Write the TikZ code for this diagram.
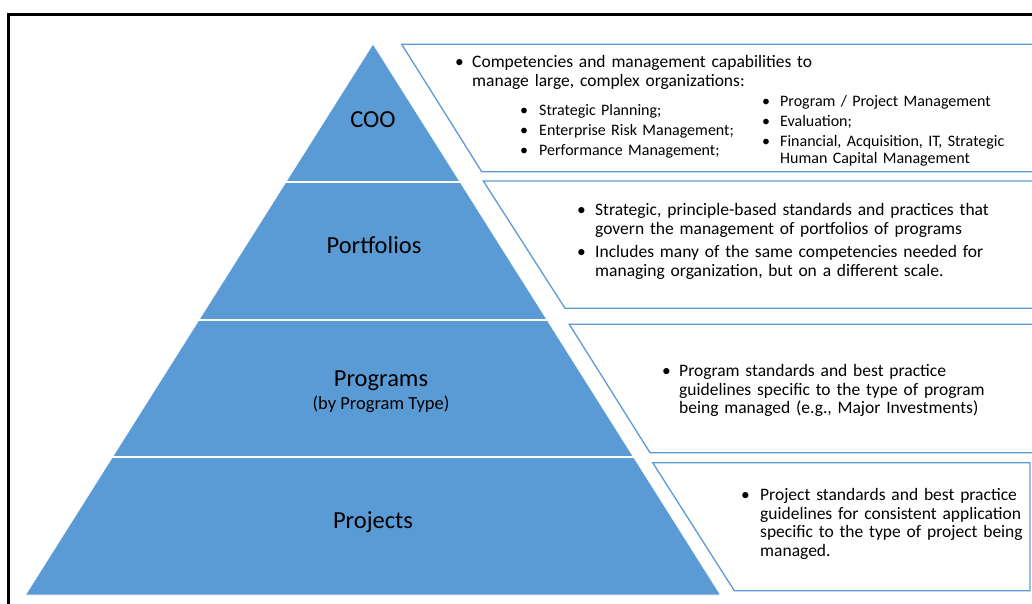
\documentclass[tikz,border=0pt]{standalone}
\usepackage{fontspec}
\setmainfont{Carlito}
\usetikzlibrary{calc}
\definecolor{pyrblue}{HTML}{5B9BD5}
\newcommand\bitem[2][17pt]{\par\hangindent=#1\hangafter=1\noindent\makebox[#1][l]{\textbullet}#2\par}
\tikzset{
  tier/.style={anchor=base,inner sep=0pt,font=\fontsize{24.5}{28}\selectfont},
  note/.style={draw=pyrblue,line width=1.3pt,fill=white},
  divider/.style={white,line width=2pt},
  bullets/.style={anchor=north west,inner sep=0pt,text width=#1,align=left,
    font=\fontsize{17.5}{18.7}\selectfont,execute at begin node={\setlength{\parskip}{4pt}\hyphenpenalty=10000}},
  subbullets/.style={anchor=north west,inner sep=0pt,text width=#1,align=left,
    font=\fontsize{16}{17}\selectfont,execute at begin node={\setlength{\parskip}{3pt}\hyphenpenalty=10000}}
}
\begin{document}
\begin{tikzpicture}[x=1pt,y=-1pt]
\useasboundingbox (0,0) rectangle (1032,603);
%=======frame=============
\draw[line width=3pt] (8.5,610)--(8.5,14.7)--(1040,14.7);
%=======pyramid=============
\coordinate (apex) at (373,44);
\coordinate (bl) at (25.5,595);
\coordinate (br) at (720.5,595);
\fill[pyrblue,draw=white,line width=.6pt] (apex)--(bl)--(br)--cycle;
\foreach \t in {0.25,0.5,0.75}
  \draw[divider] ($(apex)!\t!(bl)$)--($(apex)!\t!(br)$);
\node[tier] (coo) at (373,127) {COO};
\node[tier] (portfolios) at (374,253) {Portfolios};
\node[tier] (programs) at (381,386) {Programs};
\node[tier,font=\fontsize{18.5}{21}\selectfont] (progtype) at (381,409) {(by Program Type)};
\node[tier] (projects) at (373,528) {Projects};
%=======box COO=============
\draw[note] (401.7,44.3)--(1040,44.3)--(1040,171.7)--(481.7,171.7)--cycle;
\node[bullets=560pt] (cootext) at (455,45)
  {\bitem{Competencies and management capabilities to\newline manage large, complex organizations:}};
\node[subbullets=220pt] (coolist) at (520,95)
  {\bitem[19pt]{Strategic Planning;}\bitem[19pt]{Enterprise Risk Management;}\bitem[19pt]{Performance Management;}};
\node[subbullets=260pt] (coolisttwo) at (762,86)
  {\bitem[18pt]{Program / Project Management}\bitem[18pt]{Evaluation;}\bitem[18pt]{Financial, Acquisition, IT, Strategic\newline Human Capital Management}};
%=======box portfolios=============
\draw[note] (483.3,181)--(1040,181)--(1040,308.3)--(565,308.3)--cycle;
\node[bullets=430pt] (porttext) at (577,193)
  {\bitem[18pt]{Strategic, principle-based standards and practices that\newline govern the management of portfolios of programs}\bitem[18pt]{Includes many of the same competencies needed for\newline managing organization, but on a different scale.}};
%=======box programs=============
\draw[note] (569.3,324.3)--(1040,324.3)--(1040,452.7)--(650,452.7)--cycle;
\node[bullets=340pt] (progtext) at (662,353.5)
  {\bitem{Program standards and best practice\newline guidelines specific to the type of program\newline being managed (e.g., Major Investments)}};
%=======box projects=============
\draw[note] (652.7,462.7)--(1030,462.7)--(1030,590.7)--(734.3,590.7)--cycle;
\node[bullets=320pt] (projtext) at (741,477.5)
  {\bitem[19pt]{Project standards and best practice\newline guidelines for consistent application\newline specific to the type of project being\newline managed.}};
\end{tikzpicture}
\end{document}
